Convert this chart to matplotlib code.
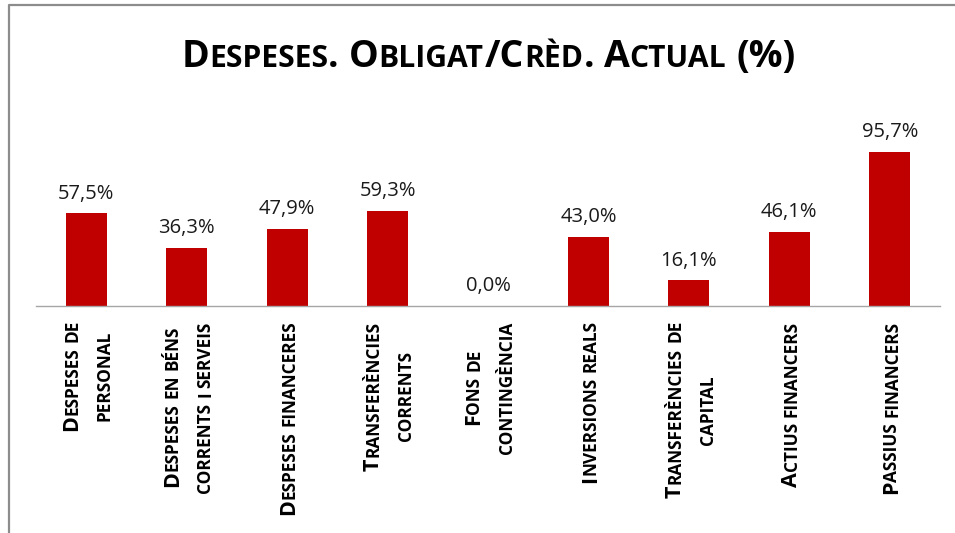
import matplotlib
matplotlib.use('Agg')
import numpy as np
import matplotlib.pyplot as plt
from matplotlib import font_manager
from matplotlib.ft2font import FT2Font
from matplotlib.lines import Line2D
from matplotlib.transforms import IdentityTransform

try:
    from matplotlib.ft2font import LoadFlags
    NOHINT = LoadFlags.NO_HINTING
except ImportError:
    from matplotlib.ft2font import LOAD_NO_HINTING as NOHINT

# Chart data
title = 'Despeses. Obligat/Crèd. Actual (%)'
categories = [
    ['Despeses de', 'personal'],
    ['Despeses en béns', 'corrents i serveis'],
    ['Despeses financeres'],
    ['Transferències', 'corrents'],
    ['Fons de', 'contingència'],
    ['Inversions reals'],
    ['Transferències de', 'capital'],
    ['Actius financers'],
    ['Passius financers'],
]
values = [57.5, 36.3, 47.9, 59.3, 0.0, 43.0, 16.1, 46.1, 95.7]
value_labels = ['57,5%', '36,3%', '47,9%', '59,3%', '0,0%', '43,0%', '16,1%', '46,1%', '95,7%']

BAR_COLOR = '#C00000'
FONT = 'Open Sans'
W, H = 955, 533

fig = plt.figure(figsize=(W / 100, H / 100), dpi=100)
fig.patch.set_facecolor('white')

# plot area in pixels: x 36..940, baseline at y=306, 100% = 160.9 px
ax = fig.add_axes([36 / W, (H - 306) / H, 904 / W, 160.9 / H])
x = list(range(len(values)))
ax.bar(x, values, width=0.41, color=BAR_COLOR, zorder=2)
ax.set_xlim(-0.5, len(values) - 0.5)
ax.set_ylim(0, 100)
ax.set_yticks([])
ax.set_xticks(x)
ax.set_xticklabels([])
ax.tick_params(axis='x', length=0)
for s in ['top', 'right', 'left']:
    ax.spines[s].set_visible(False)
ax.spines['bottom'].set_color('#A6A6A6')
ax.spines['bottom'].set_linewidth(1.0)
ax.patch.set_alpha(0)

for i, (v, lab) in enumerate(zip(values, value_labels)):
    ax.annotate(lab, xy=(i, v), xytext=(0, 10.5), textcoords='offset points',
                ha='center', va='baseline', fontsize=14.5, family=FONT,
                color='#1a1a1a')

bold_path = font_manager.findfont(font_manager.FontProperties(family=FONT, weight='bold'))
ftfont = FT2Font(bold_path)


def advance(txt, fs):
    ftfont.set_size(fs, fig.dpi)
    return sum(ftfont.load_char(ord(c), flags=NOHINT).linearHoriAdvance / 65536
               for c in txt)


# rotated text in Agg is not offset the same way as horizontal text;
# measure where the ink starts in both cases and correct for it
scratch = plt.figure(figsize=(4, 4), dpi=100)
_offsets = {}


def rot_correction(txt, fs):
    key = (txt, fs)
    if key in _offsets:
        return _offsets[key]
    res = []
    for rot in (0, 90):
        scratch.clear()
        scratch.text(60, 60, txt, fontsize=fs, family=FONT, weight='bold',
                     rotation=rot, rotation_mode='anchor', ha='left',
                     va='baseline', transform=IdentityTransform())
        scratch.canvas.draw()
        buf = np.asarray(scratch.canvas.buffer_rgba())[:, :, 0]
        ink = buf < 140
        if rot == 0:
            cols = np.where(ink.any(axis=0))[0]
            res.append(cols[0] - 60)
        else:
            rows = np.where(ink.any(axis=1))[0]
            res.append((buf.shape[0] - 1 - rows.max()) - 60)
    _offsets[key] = res[0] - res[1]
    return _offsets[key]


def sc_pieces(s, size, ratio, small_space):
    """split a string into small-caps pieces: (text, fontsize)"""
    pieces = []
    for ch in s:
        if ch == ' ':
            pieces.append([' ', size * ratio if small_space else size])
            continue
        small = ch.islower()
        c = ch.upper() if small else ch
        fs = size * ratio if small else size
        if pieces and pieces[-1][1] == fs and pieces[-1][0] != ' ':
            pieces[-1][0] += c
        else:
            pieces.append([c, fs])
    return pieces


def layout(s, size, ratio, small_space=False):
    items = [(txt, fs, advance(txt, fs))
             for txt, fs in sc_pieces(s, size, ratio, small_space)]
    return items, sum(w for _, _, w in items)


def draw_run(items, x0, y0, rot):
    pos = 0
    for txt, fs, w in items:
        if txt.strip():
            if rot == 0:
                px, py = x0 + pos, y0
            else:
                px, py = x0, y0 + pos + rot_correction(txt, fs)
            fig.text(px, py, txt, fontsize=fs, family=FONT, weight='bold',
                     rotation=rot, rotation_mode='anchor', ha='left',
                     va='baseline', transform=IdentityTransform(), color='black')
        pos += w


# title (small caps)
items, total = layout(title, 27, 0.8)
draw_run(items, 488.5 - total / 2, H - 67, 0)

# category labels (small caps, rotated)
lab_size = 15.5
cap_h = 15
pitch = 32.5
top_disp = H - 323
for i, lines in enumerate(categories):
    xc = ax.transData.transform((i, 0))[0]
    runs = [layout(l, lab_size, 0.8, small_space=True) for l in lines]
    lmax = max(t for _, t in runs)
    n = len(lines)
    for k, (items, total) in enumerate(runs):
        bx = xc + cap_h / 2 + (k - (n - 1) / 2) * pitch
        start = top_disp - lmax / 2 - total / 2
        draw_run(items, bx, start, 90)

plt.close(scratch)

# chart border (left and top edges visible)
fig.add_artist(Line2D([9 / W, 9 / W, 1], [0, (H - 5) / H, (H - 5) / H],
                      transform=fig.transFigure, color='#8C8C8C', lw=1.6))

fig.savefig('out.png', dpi=100)
